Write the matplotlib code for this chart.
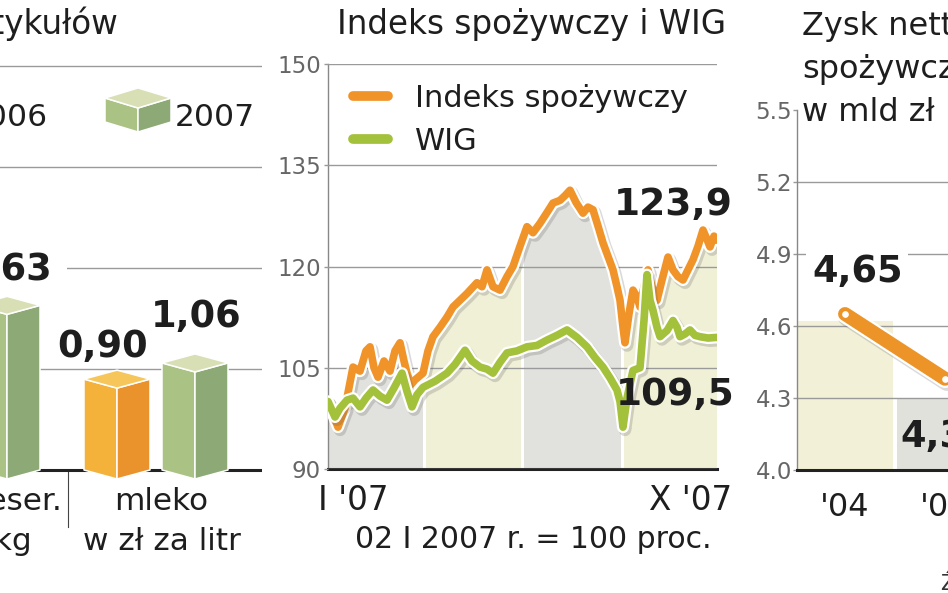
import numpy as np
import matplotlib
matplotlib.use("Agg")
import matplotlib.pyplot as plt
from matplotlib import patheffects as pe
from matplotlib.lines import Line2D

plt.rcParams['font.family'] = ['DejaVu Sans']

# ===================== DATA =====================
# Left panel: prices of selected goods
kategorie_l1 = ["serek deser.", "mleko"]
kategorie_l2 = ["w zł za kg", "w zł za litr"]
lata = ["2006", "2007"]
ceny_2006 = [np.nan, 0.90]
ceny_2007 = [1.63, 1.06]

# Middle panel: food index and WIG (02 I 2007 = 100), x = session number
dni_spoz = [0, 5, 8.5, 12.5, 16, 19, 21, 23, 25, 28,
            31, 33.5, 36, 38, 39.5, 41.5, 43.5, 47.5, 50, 52.5,
            56, 59.5, 62.5, 66, 69.5, 74.5, 77, 79.5, 82.5, 86,
            89.5, 92.5, 96, 99.5, 102.5, 106, 109.5, 112.5, 116, 118.5,
            121, 124, 127.5, 130, 132.5, 135, 137.5, 140, 142.5, 144.5,
            146, 147.5, 148.5, 150.5, 152.5, 154.5, 156, 158, 160, 162,
            164.5, 167, 170, 172.5, 175, 177.5, 180, 182.5, 185, 187.5,
            189.5, 191, 193, 194.5]
indeks_spoz = [100, 96.2, 99, 105.1, 104.5, 107.5, 108.1, 105, 103.6, 106,
               104.5, 107.5, 108.7, 106, 104.2, 102.5, 103.2, 104.2, 107.5, 109.6,
               111, 112.5, 114, 115, 116, 117.6, 117, 119.5, 117, 116.5,
               118.5, 120, 123, 125.9, 125, 126.4, 128, 129.4, 129.8, 130.5,
               131.3, 129.5, 127.9, 128.8, 128.4, 126, 123.5, 121.5, 119.5, 117,
               115, 111, 108.7, 113, 116.5, 115.5, 114, 117, 119.5, 117,
               115, 118, 121.4, 119.5, 118.5, 118, 119.5, 121, 123, 125.4,
               124, 122.9, 124.5, 123.9]
dni_wig = [0, 3.5, 6, 9.5, 12.5, 16, 19, 22.5, 26, 29.5,
           33, 37, 39.5, 42, 44.5, 47.5, 53.5, 59.5, 63.5, 68.5,
           72, 76, 79.5, 82.5, 86, 89.5, 94.5, 99.5, 104.5, 109.5,
           114.5, 119.5, 124.5, 129.5, 133.5, 137.5, 141, 144.5, 146, 147.5,
           149.5, 152.5, 156, 158, 159.5, 161, 162.5, 164.5, 166, 169.5,
           172.5, 174.5, 176, 178.5, 181, 183.5, 186, 190, 194.5]
wig = [100, 97.7, 99, 100.2, 100.5, 99.2, 100.5, 101.7, 100.8, 100.2,
       102, 104.2, 101.5, 99.2, 101, 102.1, 103, 104.2, 105.5, 107.6,
       106, 105.1, 104.8, 104.2, 105.8, 107.2, 107.5, 108.1, 108.3, 109.1,
       109.8, 110.6, 109.5, 108.1, 106.5, 105.1, 103.5, 101.7, 100, 96.2,
       100.5, 104.6, 105, 112, 118.8, 115, 113.5, 111, 109.6, 110.5,
       112, 111, 109.6, 110, 110.6, 109.8, 109.6, 109.4, 109.5]
granice_okresow = [0, 48, 97, 147, 194.5]
os_y_srodek = [90, 105, 120, 135, 150]
etykiety_x_srodek = ["I '07", "X '07"]
nazwy_serii = ["Indeks spożywczy", "WIG"]

# Right panel: net profit, bn zł
lata_zysk = ["'04", "'05"]
zysk = [4.65, 4.38]
wypelnienie_zysk = [4.62, 4.30]
os_y_prawy = [4.0, 4.3, 4.6, 4.9, 5.2, 5.5]

# ===================== STYLE / LAYOUT =====================
W, H, DPI = 948, 593, 100
TXT = '#1e1e1e'
TICK = '#666666'
GRID = '#9a9a9a'
POM = '#F0942A'
ZIE = '#A4C13B'
PAS = ['#E1E1DD', '#F0F0D7']
CUBE_2006 = ('#F4B23A', '#EA922B', '#F6C65A')
CUBE_2007 = ('#AAC385', '#8DAA76', '#D8DFB5')
BOLD = 26.5


def rect(x0, y_top, x1, y_bot):
    return [x0 / W, 1 - y_bot / H, (x1 - x0) / W, (y_bot - y_top) / H]


fig = plt.figure(figsize=(W / DPI, H / DPI), dpi=DPI)
fig.patch.set_facecolor('white')

# ---------------- LEFT PANEL ----------------
PX_PER_UNIT = 101.0
BASE_Y = 470.0
yl0, yl1 = -0.6, 4.1
axl = fig.add_axes(rect(-150, BASE_Y - yl1 * PX_PER_UNIT, 262, BASE_Y - yl0 * PX_PER_UNIT))
axl.set_xlim(-150, 262)
axl.set_ylim(yl0, yl1)
axl.axis('off')
axl.patch.set_alpha(0)

for v in [1, 2, 3, 4]:
    axl.axhline(v, color=GRID, lw=1.0, zorder=1)
axl.axhline(0, color='#222222', lw=2.2, zorder=1.5)

half_w = 33.0
dd = 9.0 / PX_PER_UNIT


def cube(ax, c, base, top, w, d, cols, z=3):
    left, right, topc = cols
    kw = dict(ec='white', lw=1.1, zorder=z, joinstyle='round')
    ax.fill([c - w, c, c, c - w], [base, base - d, top - d, top], fc=left, **kw)
    ax.fill([c, c + w, c + w, c], [base - d, base, top, top - d], fc=right, **kw)
    ax.fill([c - w, c, c + w, c], [top, top - d, top, top + d], fc=topc, **kw)


n = len(ceny_2007)
srodki_grup = 156 + 188 * (np.arange(n) - (n - 1))
odstep = 39
przes_etyk = {(0, 1): (0, 25), (1, 0): (-14.5, 22), (1, 1): (1, 36)}
for i in range(n):
    for j, (vals, cols) in enumerate([(ceny_2006, CUBE_2006), (ceny_2007, CUBE_2007)]):
        v = vals[i]
        if np.isnan(v):
            continue
        c = srodki_grup[i] + (j - 0.5) * 2 * odstep
        cube(axl, c, 0, v, half_w, dd, cols)
        dx, dy = przes_etyk[(i, j)]
        kw = {}
        if (i, j) == (0, 1):
            kw['bbox'] = dict(boxstyle='square,pad=0.4', fc='white', ec='none')
        axl.annotate(f"{v:.2f}".replace('.', ','), xy=(c, v), xytext=(dx, dy),
                     textcoords='offset pixels', ha='center', va='baseline',
                     fontsize=BOLD, weight='bold', color=TXT, zorder=2, **kw)

# category labels
for i in range(n):
    if i == n - 1:
        for k, t in enumerate([kategorie_l1[i], kategorie_l2[i]]):
            axl.annotate(t, xy=(srodki_grup[i], 0), xytext=(5.5, -40 - 40 * k),
                         textcoords='offset pixels', ha='center', va='baseline',
                         fontsize=22.4, color=TXT, annotation_clip=False)
    else:
        for k, (t, dx) in enumerate([(kategorie_l1[i], 94), (kategorie_l2[i], 64)]):
            axl.annotate(t, xy=(srodki_grup[i], 0), xytext=(dx, -40 - 40 * k),
                         textcoords='offset pixels', ha='right', va='baseline',
                         fontsize=22.4, color=TXT, annotation_clip=False)

sep_x = (srodki_grup[0] + srodki_grup[1]) / 2 + 6
axl.axvline(sep_x, ymin=(-0.56 - yl0) / (yl1 - yl0), ymax=(0 - yl0) / (yl1 - yl0),
            color='#444444', lw=0.8, zorder=1)

# legend cube (2007)
leg_base = (BASE_Y - 122) / PX_PER_UNIT
leg_top = (BASE_Y - 98) / PX_PER_UNIT
cube(axl, 138, leg_base, leg_top, 33, 10 / PX_PER_UNIT, CUBE_2007)

# ---------------- MIDDLE PANEL ----------------
axm = fig.add_axes(rect(328, 64, 717, 469))
axm.set_xlim(granice_okresow[0], granice_okresow[-1])
axm.set_ylim(os_y_srodek[0], os_y_srodek[-1])
axm.patch.set_alpha(0)

obszar = axm.fill_between(dni_spoz, os_y_srodek[0], indeks_spoz, facecolor='none', lw=0)
sciezka = obszar.get_paths()[0]
for i in range(len(granice_okresow) - 1):
    p = axm.axvspan(granice_okresow[i], granice_okresow[i + 1], facecolor=PAS[i % 2], lw=0, zorder=1)
    p.set_clip_path(sciezka, axm.transData)
for g in granice_okresow[1:-1]:
    l = axm.axvline(g, color='white', lw=2.2, zorder=1.2)
    l.set_clip_path(sciezka, axm.transData)

axm.set_axisbelow(False)
axm.set_yticks(os_y_srodek)
axm.grid(axis='y', color=GRID, lw=1.0)
axm.set_xticks([])
axm.tick_params(axis='y', length=3, width=1, color='#999999', labelsize=16.5,
                labelcolor=TICK, pad=2)
for s in ['top', 'right']:
    axm.spines[s].set_visible(False)
axm.spines['left'].set_color('#888888')
axm.spines['left'].set_linewidth(1.0)
axm.spines['bottom'].set_color('#222222')
axm.spines['bottom'].set_linewidth(2.2)


def efekty(w):
    return [pe.SimpleLineShadow(offset=(1.5, -2), shadow_color='#555555', alpha=0.22,
                                rho=1, linewidth=w + 3.5),
            pe.Stroke(linewidth=w + 3.2, foreground='white'), pe.Normal()]


axm.plot(dni_spoz, indeks_spoz, color=POM, lw=5.5, solid_joinstyle='round',
         solid_capstyle='round', zorder=4, path_effects=efekty(5.5))
axm.plot(dni_wig, wig, color=ZIE, lw=5.5, solid_joinstyle='round',
         solid_capstyle='round', zorder=5, path_effects=efekty(5.5))

uchwyty = [Line2D([], [], color=POM, lw=7, solid_capstyle='round'),
           Line2D([], [], color=ZIE, lw=7, solid_capstyle='round')]
axm.legend(uchwyty, nazwy_serii, loc='upper left', bbox_to_anchor=(0.064, 0.951),
           frameon=False, fontsize=22, handlelength=1.15, handletextpad=0.88,
           labelspacing=0.46, borderpad=0, borderaxespad=0, labelcolor=TXT)

axm.annotate(f"{indeks_spoz[-1]:.1f}".replace('.', ','), xy=(dni_spoz[-1], indeks_spoz[-1]),
             xytext=(16, 25), textcoords='offset pixels', ha='right', va='baseline',
             fontsize=27, weight='bold', color=TXT, zorder=6, annotation_clip=False)
axm.annotate(f"{wig[-1]:.1f}".replace('.', ','), xy=(dni_wig[-1], wig[-1]),
             xytext=(18, -68), textcoords='offset pixels', ha='right', va='baseline',
             fontsize=27, weight='bold', color=TXT, zorder=6, annotation_clip=False)

axm.annotate("Indeks spożywczy i WIG", xy=(0, 1), xycoords='axes fraction',
             xytext=(9, 30), textcoords='offset pixels', ha='left', va='baseline',
             fontsize=23.5, color=TXT)
axm.annotate(etykiety_x_srodek[0], xy=(0, 0), xycoords='axes fraction',
             xytext=(-10, -41), textcoords='offset pixels', ha='left', va='baseline',
             fontsize=23.5, color=TXT)
axm.annotate(etykiety_x_srodek[1], xy=(1, 0), xycoords='axes fraction',
             xytext=(15, -41), textcoords='offset pixels', ha='right', va='baseline',
             fontsize=23.5, color=TXT)
axm.annotate("02 I 2007 r. = 100 proc.", xy=(0.5, 0), xycoords='axes fraction',
             xytext=(11, -79), textcoords='offset pixels', ha='center', va='baseline',
             fontsize=21.5, color=TXT)

# ---------------- RIGHT PANEL ----------------
axr = fig.add_axes(rect(797, 110, 1095, 470))
axr.set_xlim(-0.48, 2.5)
axr.set_ylim(os_y_prawy[0], os_y_prawy[-1])
axr.patch.set_alpha(0)
xr = np.arange(len(zysk))
axr.bar(xr, np.array(wypelnienie_zysk) - os_y_prawy[0], bottom=os_y_prawy[0], width=0.96,
        color=['#F2F1D7', '#E1E1DC'], lw=0, zorder=1)
for v in os_y_prawy[1:-1]:
    axr.axhline(v, color=GRID, lw=1.0, zorder=2)
axr.plot(xr, zysk, color='#EC9428', lw=10, solid_capstyle='round', solid_joinstyle='round',
         zorder=4, path_effects=efekty(10))
axr.plot(xr, zysk, ls='none', marker='o', ms=3.8, mfc='white', mec='white', zorder=5)

axr.set_yticks(os_y_prawy, [f"{v:.1f}" for v in os_y_prawy])
axr.set_xticks(xr, lata_zysk)
axr.tick_params(axis='y', length=3, width=1, color='#999999', labelsize=16.5,
                labelcolor=TICK, pad=0.5)
axr.tick_params(axis='x', length=0, labelsize=23, labelcolor=TXT, pad=16)
for s in ['top', 'right']:
    axr.spines[s].set_visible(False)
axr.spines['left'].set_color('#888888')
axr.spines['left'].set_linewidth(1.0)
axr.spines['bottom'].set_color('#222222')
axr.spines['bottom'].set_linewidth(2.2)

axr.annotate(f"{zysk[0]:.2f}".replace('.', ','), xy=(xr[0], zysk[0]), xytext=(-33, 32),
             textcoords='offset pixels', ha='left', va='baseline', fontsize=BOLD,
             weight='bold', color=TXT, zorder=3,
             bbox=dict(boxstyle='square,pad=0.15', fc='white', ec='none'))
axr.annotate(f"{zysk[1]:.2f}".replace('.', ','), xy=(xr[1], zysk[1]), xytext=(-45, -68),
             textcoords='offset pixels', ha='left', va='baseline', fontsize=BOLD,
             weight='bold', color=TXT, zorder=6)

# ---------------- OVERLAY TEXT ----------------
ax0 = fig.add_axes([0, 0, 1, 1])
ax0.set_xlim(0, W)
ax0.set_ylim(H, 0)
ax0.axis('off')
ax0.set_zorder(10)
ax0.patch.set_alpha(0)

ax0.text(118, 34, "Ceny wybranych artykułów", ha='right', va='baseline', fontsize=23.5, color=TXT)
ax0.text(48, 126, lata[0], ha='right', va='baseline', fontsize=22.6, color=TXT)
ax0.text(175, 126, lata[1], ha='left', va='baseline', fontsize=22.6, color=TXT)
for k, t in enumerate(["Zysk netto firm", "spożywczych", "w mld zł"]):
    ax0.text(802, 35 + 43 * k, t, ha='left', va='baseline', fontsize=23, color=TXT)
ax0.text(941, 590, "Źródło: GUS", ha='left', va='baseline', fontsize=15, color='#333333')

fig.savefig("out.png", dpi=DPI, facecolor='white')
